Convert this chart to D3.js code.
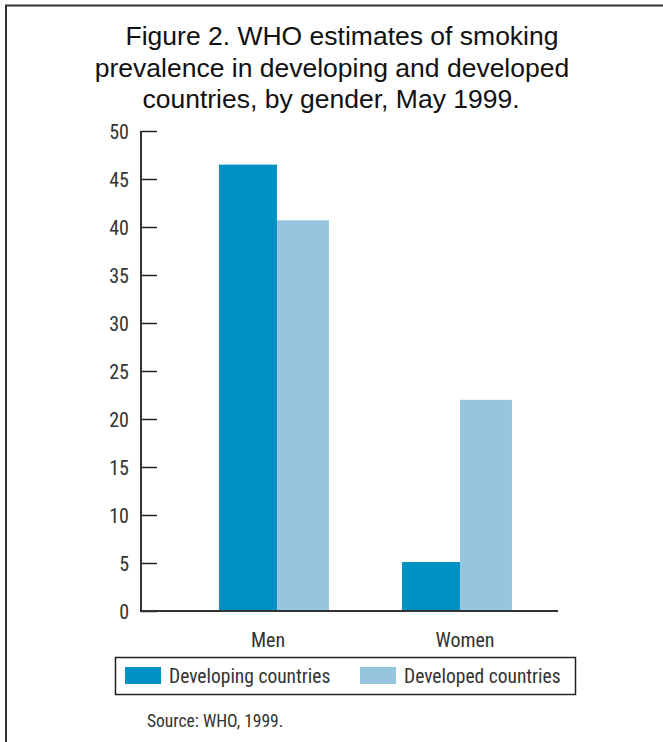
<!DOCTYPE html>
<html>
<head>
<meta charset="utf-8">
<script src="https://cdn.jsdelivr.net/npm/d3@7/dist/d3.min.js"></script>
<style>
  html, body { margin: 0; padding: 0; background: #fff; }
  svg { display: block; }
  .cond { font-family: "Liberation Sans Narrow", "Roboto Condensed", "DejaVu Sans Condensed", sans-serif; }
</style>
</head>
<body>
<svg id="chart" width="663" height="742"></svg>
<script>
// Smoking prevalence (%) by gender
const categories = ["Men", "Women"];
const seriesNames = ["Developing countries", "Developed countries"];
const developing = [46.5, 5.1];
const developed = [40.7, 22.0];
const yTicks = [0, 5, 10, 15, 20, 25, 30, 35, 40, 45, 50];
const titleLines = [
  "Figure 2. WHO estimates of smoking",
  "prevalence in developing and developed",
  "countries, by gender, May 1999."
];
const sourceText = "Source: WHO, 1999.";

const colors = ["#0091c4", "#96c6df"];
const barWidths = [58, 52];
const titleCenters = [342, 332, 331];

const svg = d3.select("#chart");

// outer frame (top and left rules)
svg.append("path")
  .attr("d", "M6,742 V5.5 H663")
  .attr("fill", "none")
  .attr("stroke", "#333")
  .attr("stroke-width", 2);

// title
svg.append("g")
  .selectAll("text")
  .data(titleLines)
  .join("text")
  .attr("x", (d, i) => titleCenters[i])
  .attr("y", (d, i) => 45 + i * 31.5)
  .attr("text-anchor", "middle")
  .attr("font-family", "'Liberation Sans', Arial, sans-serif")
  .attr("font-size", 26.5)
  .attr("fill", "#111")
  .text(d => d);

const axisX = 141;
const y = d3.scaleLinear().domain([0, 50]).range([611, 131]);
const x = d3.scaleBand().domain(categories).range([141, 559]).paddingInner(0.568).paddingOuter(0.426);

// y axis with inward ticks
const yAxis = svg.append("g")
  .attr("transform", `translate(${axisX},0)`)
  .call(d3.axisLeft(y).tickValues(yTicks).tickSize(0).tickPadding(12));
yAxis.select(".domain").remove();
yAxis.selectAll("text")
  .attr("class", "cond")
  .attr("font-size", 20)
  .attr("dy", "0.36em")
  .attr("fill", "#333");
yAxis.selectAll(".tick")
  .append("line")
  .attr("x1", 0).attr("x2", 16)
  .attr("stroke", "#222").attr("stroke-width", 1.5);

// bars
const data = categories.map((c, i) => ({ cat: c, values: [developing[i], developed[i]] }));
const groups = svg.append("g")
  .selectAll("g")
  .data(data)
  .join("g")
  .attr("transform", d => `translate(${x(d.cat)},0)`);

groups.selectAll("rect")
  .data(d => d.values.map((v, j) => ({ v, j })))
  .join("rect")
  .attr("x", d => d.j === 0 ? 0 : barWidths[0])
  .attr("width", d => barWidths[d.j])
  .attr("y", d => y(d.v))
  .attr("height", d => y(0) - y(d.v))
  .attr("fill", d => colors[d.j]);

// axis lines
svg.append("line")
  .attr("x1", axisX).attr("x2", axisX)
  .attr("y1", y(50)).attr("y2", y(0))
  .attr("stroke", "#333").attr("stroke-width", 2);
svg.append("line")
  .attr("x1", axisX - 1).attr("x2", 558)
  .attr("y1", y(0)).attr("y2", y(0))
  .attr("stroke", "#333").attr("stroke-width", 2);

// category labels
const labelOffsets = [9.5, 23.5];
svg.append("g")
  .selectAll("text")
  .data(categories)
  .join("text")
  .attr("class", "cond")
  .attr("x", (d, i) => x(d) + x.bandwidth() / 2 + labelOffsets[i])
  .attr("y", 647)
  .attr("text-anchor", "middle")
  .attr("font-size", 20)
  .attr("fill", "#333")
  .text(d => d);

// legend
svg.append("rect")
  .attr("x", 115.5).attr("y", 657.5)
  .attr("width", 460).attr("height", 37)
  .attr("fill", "none").attr("stroke", "#222").attr("stroke-width", 1.5);
const legendX = [125, 360];
const legend = svg.append("g")
  .selectAll("g")
  .data(seriesNames)
  .join("g")
  .attr("transform", (d, i) => `translate(${legendX[i]},667)`);
legend.append("rect")
  .attr("width", 36).attr("height", 17)
  .attr("fill", (d, i) => colors[i]);
legend.append("text")
  .attr("class", "cond")
  .attr("x", 44).attr("y", 16)
  .attr("font-size", 19.5)
  .attr("fill", "#333")
  .text(d => d);

// source note
svg.append("text")
  .attr("class", "cond")
  .attr("x", 147).attr("y", 727)
  .attr("font-size", 17.5)
  .attr("fill", "#333")
  .text(sourceText);
</script>
</body>
</html>
